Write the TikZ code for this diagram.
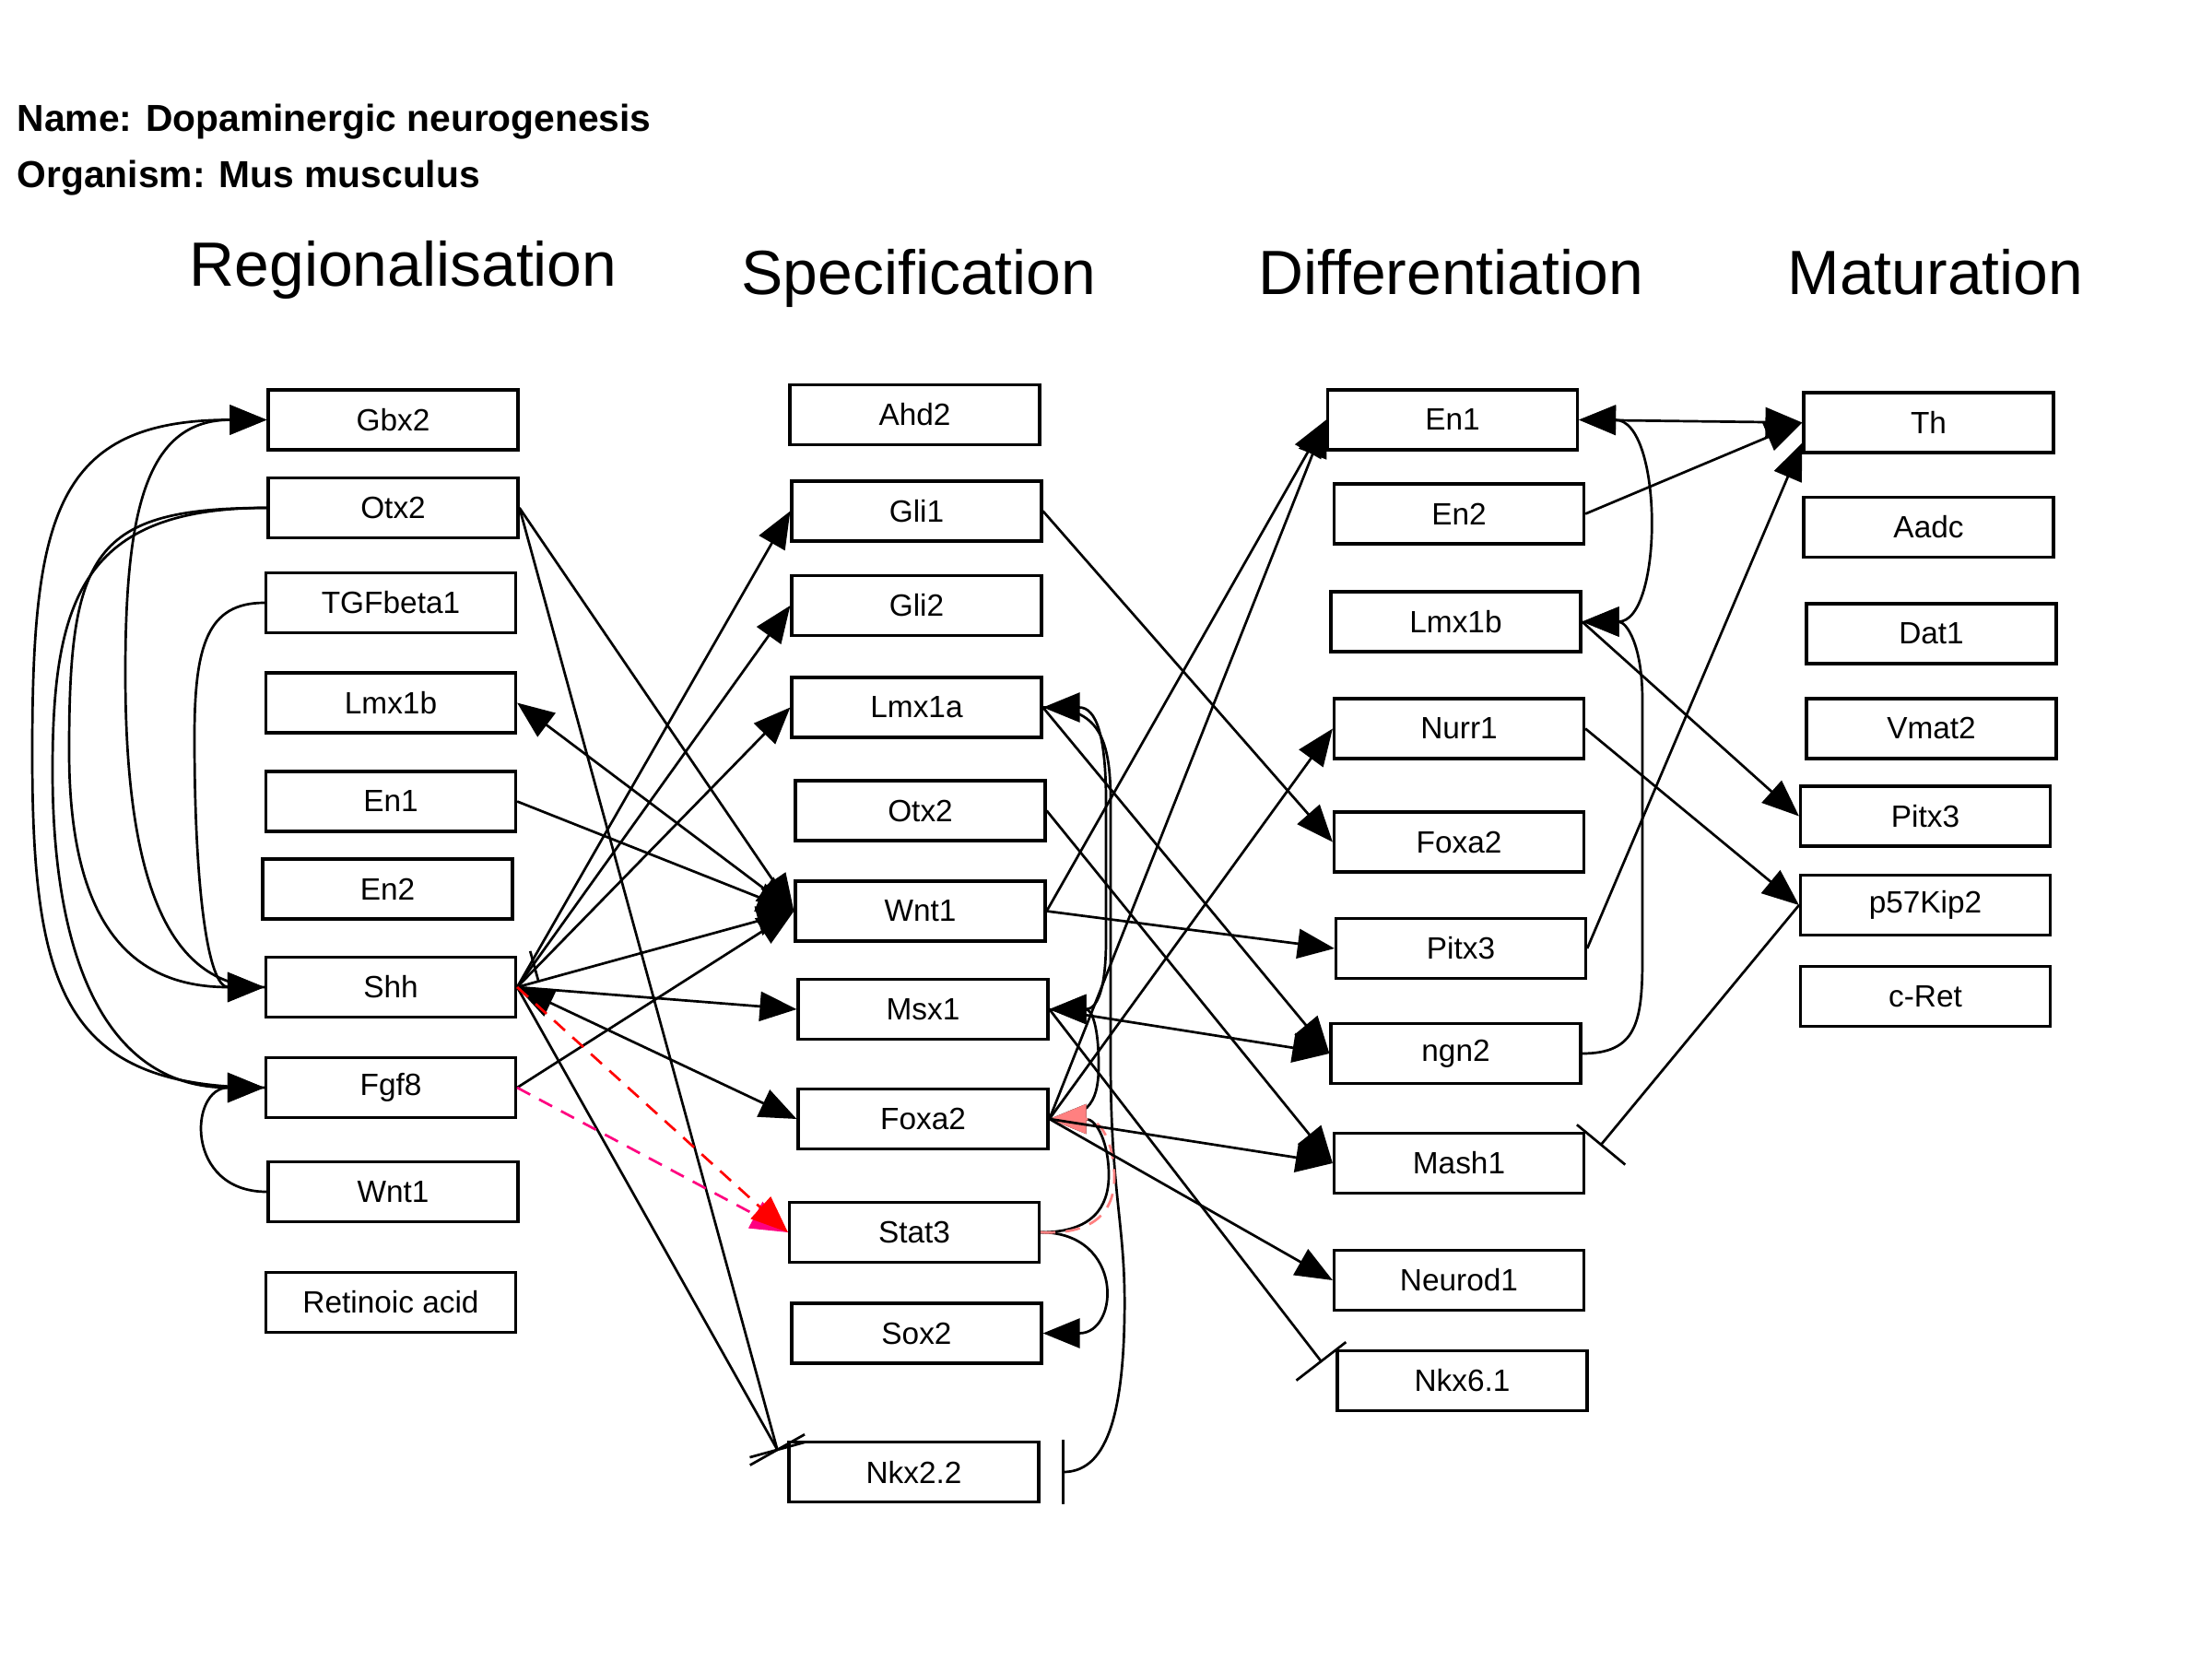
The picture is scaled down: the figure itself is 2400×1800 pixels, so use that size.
\documentclass[tikz,border=0pt]{standalone}
\usepackage{fontspec}
\setmainfont{Liberation Sans}
\usetikzlibrary{arrows.meta,calc}
\newcommand\genefont{\fontsize{9.5}{11}\selectfont}
\newcommand\headfont{\fontsize{19.3}{23}\selectfont}
\newcommand\titlefont{\bfseries\fontsize{11.6}{14}\selectfont}
\definecolor{shhred}{RGB}{255,0,0}
\definecolor{fgfpink}{RGB}{255,0,128}
\definecolor{salmon}{RGB}{255,128,128}

\begin{document}
\begin{tikzpicture}[x=0.1mm,y=-0.1mm,
  >={Triangle[length=4mm,width=3.2mm]},
  gene/.style={draw,line width=0.32mm,minimum width=27.1mm,minimum height=6.5mm,inner sep=0pt,font=\genefont},
  head/.style={anchor=base west,inner sep=0pt,font=\headfont},
  caption/.style={anchor=base west,inner sep=0pt,font=\titlefont},
  link/.style={line width=0.27mm},
  act/.style={link,->},
  dual/.style={link,<->},
  dashlink/.style={link,dash pattern=on 1.6mm off 1.1mm,->},
]
\fill[white] (0,0) rectangle (2400,1800);
\useasboundingbox (0,0) rectangle (2400,1800);

% titles and column headings
\node[caption] (name) at (18,143) {Name: Dopaminergic neurogenesis};
\node[caption] (org) at (18,204) {Organism: Mus musculus};
\node[head] (hreg) at (205,311) {Regionalisation};
\node[head] (hspec) at (804,320) {Specification};
\node[head] (hdiff) at (1365,320) {Differentiation};
\node[head] (hmat) at (1939,320) {Maturation};

% regionalisation
\node[gene] (gbx2) at (426.5,455.5) {Gbx2};
\node[gene] (otx2r) at (426.5,551) {Otx2};
\node[gene] (tgf) at (424,654) {TGFbeta1};
\node[gene] (lmx1br) at (424,762.5) {Lmx1b};
\node[gene] (en1r) at (424,869.5) {En1};
\node[gene] (en2r) at (420.5,964.5) {En2};
\node[gene] (shh) at (424,1071) {Shh};
\node[gene] (fgf8) at (424,1180) {Fgf8};
\node[gene] (wnt1r) at (426.5,1293) {Wnt1};
\node[gene] (ra) at (424,1413) {Retinoic acid};

% specification
\node[gene] (ahd2) at (992.5,450) {Ahd2};
\node[gene] (gli1) at (994.5,554.5) {Gli1};
\node[gene] (gli2) at (994.5,657) {Gli2};
\node[gene] (lmx1a) at (994.5,767.5) {Lmx1a};
\node[gene] (otx2s) at (998.5,879.5) {Otx2};
\node[gene] (wnt1s) at (998.5,988.5) {Wnt1};
\node[gene] (msx1) at (1001.5,1095) {Msx1};
\node[gene] (foxa2s) at (1001.5,1214) {Foxa2};
\node[gene] (stat3) at (992,1337) {Stat3};
\node[gene] (sox2) at (994.5,1446.5) {Sox2};
\node[gene] (nkx22) at (991.5,1597) {Nkx2.2};

% differentiation
\node[gene] (en1d) at (1576,455.5) {En1};
\node[gene] (en2d) at (1583,557.5) {En2};
\node[gene] (lmx1bd) at (1579.5,674.5) {Lmx1b};
\node[gene] (nurr1) at (1583,790.5) {Nurr1};
\node[gene] (foxa2d) at (1583,913.5) {Foxa2};
\node[gene] (pitx3d) at (1585,1029) {Pitx3};
\node[gene] (ngn2) at (1579.5,1143) {ngn2};
\node[gene] (mash1) at (1583,1262) {Mash1};
\node[gene] (neurod1) at (1583,1389) {Neurod1};
\node[gene] (nkx61) at (1586.5,1498) {Nkx6.1};

% maturation
\node[gene] (th) at (2092.5,458.5) {Th};
\node[gene] (aadc) at (2092.5,572) {Aadc};
\node[gene] (dat1) at (2095.5,687.5) {Dat1};
\node[gene] (vmat2) at (2095.5,790.5) {Vmat2};
\node[gene] (pitx3m) at (2089,885.5) {Pitx3};
\node[gene] (p57) at (2089,982) {p57Kip2};
\node[gene] (cret) at (2089,1081) {c-Ret};

% end points of the inhibition bars
\coordinate (nkxin) at ($(nkx22.north west)+(-11,10)$);
\coordinate (nkxbar) at ($(nkx22.east)+(25,0)$);
\coordinate (nkx6in) at ($(nkx61.north west)+(-16,13)$);
\coordinate (mashin) at ($(mash1.north east)+(17,14)$);
\coordinate (shhbar) at ($(shh.east)!2.4mm!(wnt1s.west)$);
\coordinate (thlow) at ($(th.west)+(0,22)$);

% loops on the left of the regionalisation column
\draw[act] (fgf8.west) .. controls (70,1180) and (35,1075) .. (35,817)
  .. controls (35,560) and (60,455.5) .. (gbx2.west);
\draw[act] (shh.west) .. controls (180,1071) and (136,950) .. (136,730)
  .. controls (136,550) and (160,455.5) .. (gbx2.west);
\draw[act] (otx2r.west) .. controls (100,551) and (75,600) .. (75,815)
  .. controls (75,1000) and (140,1071) .. (shh.west);
\draw[act] (otx2r.west) .. controls (90,551) and (57,650) .. (57,836)
  .. controls (57,1050) and (120,1180) .. (fgf8.west);
\draw[act] (tgf.west) .. controls (225,654) and (211,700) .. (211,800)
  .. controls (211,960) and (225,1071) .. (shh.west);
\draw[act] (wnt1r.west) .. controls (200,1293) and (205,1180) .. (fgf8.west);

% regionalisation -> specification
\draw[act] (otx2r.east) -- (wnt1s.west);
\draw[link] (otx2r.east) -- (nkxin);
\draw[link] ($(nkxin)!3.1mm!90:(otx2r.east)$) -- ($(nkxin)!3.1mm!-90:(otx2r.east)$);
\draw[dual] (lmx1br.east) -- (wnt1s.west);
\draw[act] (en1r.east) -- (wnt1s.west);
\draw[act] (shh.east) -- (gli1.west);
\draw[act] (shh.east) -- (gli2.west);
\draw[act] (shh.east) -- (lmx1a.west);
\draw[act] (shh.east) -- (wnt1s.west);
\draw[link] (shhbar) -- ($(shhbar)!3.4mm!90:(wnt1s.west)$);
\draw[act] (shh.east) -- (msx1.west);
\draw[dual] (shh.east) -- (foxa2s.west);
\draw[link] (shh.east) -- (nkxin);
\draw[link] ($(nkxin)!3.4mm!90:(shh.east)$) -- ($(nkxin)!3.4mm!-90:(shh.east)$);
\draw[act] (fgf8.east) -- (wnt1s.west);
\draw[dashlink,fgfpink] (fgf8.east) -- (stat3.west);
\draw[dashlink,shhred] (shh.east) -- (stat3.west);

% loops on the right of the specification column
\draw[dual] (lmx1a.east) .. controls (1190,767.5) and (1200,800) .. (1200,870)
  -- (1200,1020) .. controls (1200,1075) and (1190,1095) .. (msx1.east);
\draw[link] (lmx1a.east) .. controls (1192,767.5) and (1205,800) .. (1205,870)
  -- (1205,1150) .. controls (1205,1300) and (1222,1330) .. (1220,1430)
  .. controls (1218,1550) and (1195,1597) .. (nkxbar);
\draw[link] ($(nkxbar)+(0,-35)$) -- ($(nkxbar)+(0,35)$);
\draw[act] (foxa2s.east) .. controls (1185,1214) and (1192,1190) .. (1192,1155)
  .. controls (1192,1115) and (1185,1095) .. (msx1.east);
\draw[act] (stat3.east) .. controls (1220,1337) and (1215,1446.5) .. (sox2.east);
\draw[act] (stat3.east) .. controls (1185,1337) and (1203,1310) .. (1203,1275)
  .. controls (1203,1240) and (1190,1214) .. (foxa2s.east);
\draw[dashlink,salmon] (stat3.east) .. controls (1192,1340) and (1210,1310) .. (1209,1275)
  .. controls (1208,1240) and (1195,1214) .. (foxa2s.east);

% specification -> differentiation
\draw[act] (gli1.east) -- (foxa2d.west);
\draw[act] (lmx1a.east) -- (ngn2.west);
\draw[act] (otx2s.east) -- (mash1.west);
\draw[act] (wnt1s.east) -- (en1d.west);
\draw[act] (wnt1s.east) -- (pitx3d.west);
\draw[act] (msx1.east) -- (ngn2.west);
\draw[link] (msx1.east) -- (nkx6in);
\draw[link] ($(nkx6in)!3.4mm!90:(msx1.east)$) -- ($(nkx6in)!3.4mm!-90:(msx1.east)$);
\draw[act] (foxa2s.east) -- (en1d.west);
\draw[act] (foxa2s.east) -- (nurr1.west);
\draw[act] (foxa2s.east) -- (mash1.west);
\draw[act] (foxa2s.east) -- (neurod1.west);

% differentiation -> maturation
\draw[dual] (en1d.east) -- (th.west);
\draw[act] (en2d.east) -- (th.west);
\draw[act] (pitx3d.east) -- (thlow);
\draw[act] (lmx1bd.east) -- (pitx3m.west);
\draw[act] (nurr1.east) -- (p57.west);
\draw[link] (p57.west) -- (mashin);
\draw[link] ($(mashin)!3.4mm!90:(p57.west)$) -- ($(mashin)!3.4mm!-90:(p57.west)$);
\draw[dual] (en1d.east) .. controls (1805,455.5) and (1805,674.5) .. (lmx1bd.east);
\draw[act] (ngn2.east) .. controls (1775,1143) and (1782,1110) .. (1782,1040)
  -- (1782,760) .. controls (1782,700) and (1765,674.5) .. (lmx1bd.east);
\end{tikzpicture}
\end{document}
